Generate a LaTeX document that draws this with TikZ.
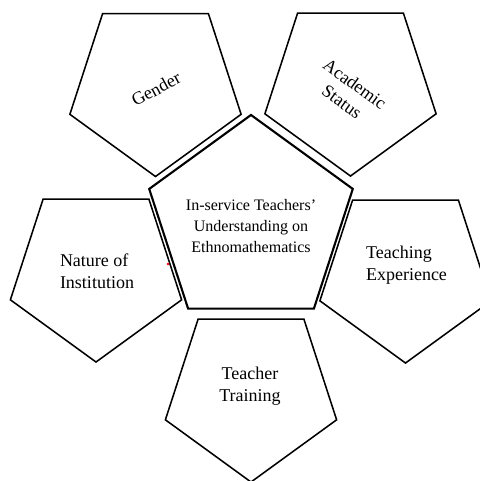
\documentclass[tikz,border=0pt]{standalone}
\usepackage{fontspec}
\setmainfont{Liberation Serif}
\usetikzlibrary{shapes.geometric}

\begin{document}
\begin{tikzpicture}[x=0.025cm,y=-0.025cm,
  pent/.style={draw,line width=1.1pt,regular polygon,regular polygon sides=5,
    shape border rotate=180,minimum size=4.5cm,inner sep=0pt},
  core/.style={draw,line width=1.5pt,regular polygon,regular polygon sides=5,
    minimum size=5.35cm,inner sep=0pt},
  lbl/.style={align=left,font=\fontsize{12.8}{15.6}\selectfont,inner sep=0pt},
  corelbl/.style={align=center,font=\fontsize{11.4}{14.6}\selectfont,inner sep=0pt}]
\useasboundingbox (0,0) rectangle (480,481);
% pentagons
\node[core] (core) at (251,222) {};
\node[pent] (gender) at (155.5,86.5) {};
\node[pent] (status) at (350.5,86) {};
\node[pent] (nature) at (96,272) {};
\node[pent] (experience) at (405.5,273) {};
\node[pent] (training) at (251,392) {};
% texts
\node[corelbl] (coretext) at (251,226) {In-service Teachers'\\Understanding on\\Ethnomathematics};
\node[lbl,rotate=28] (gendertext) at (156,89) {Gender};
\node[lbl,align=center,rotate=-36] (statustext) at (348.5,93) {Academic\\Status};
\node[lbl] (naturetext) at (97,271) {Nature of\\Institution};
\node[lbl] (experiencetext) at (406.5,265.5) {Teaching\\Experience};
\node[lbl,align=center] (trainingtext) at (250,386.5) {Teacher\\Training};
\fill[red] (168,264) circle (1.4);
\end{tikzpicture}
\end{document}
